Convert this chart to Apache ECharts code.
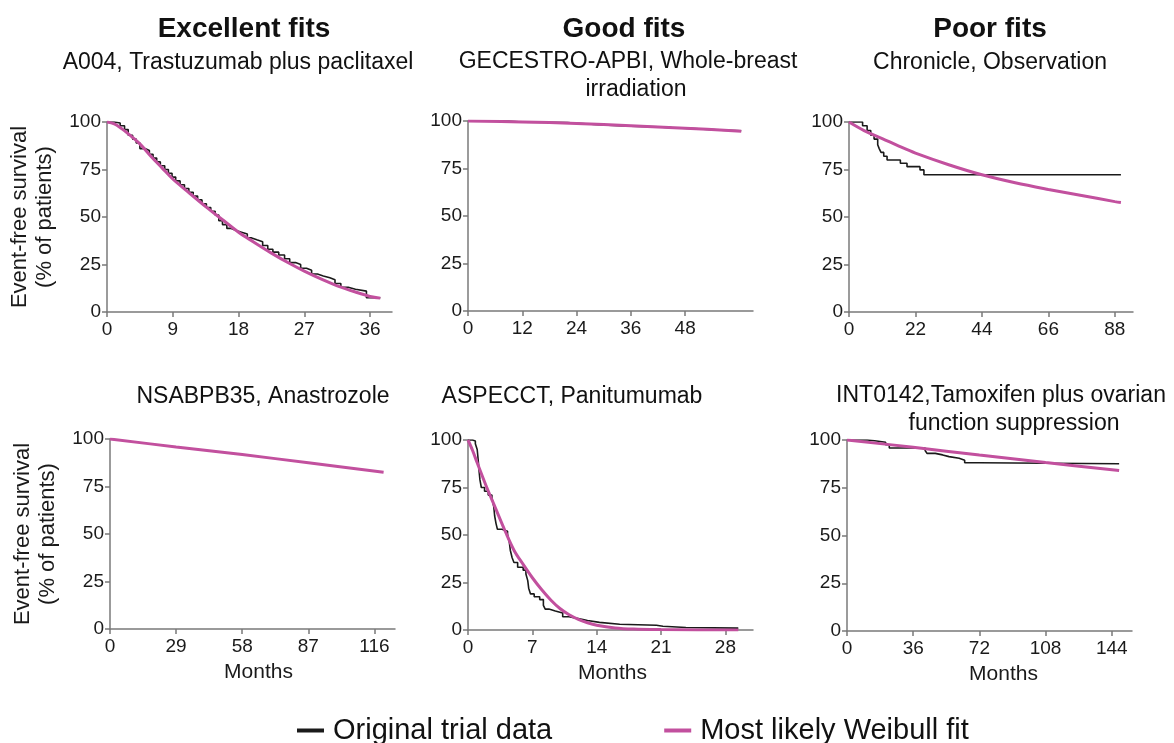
<!DOCTYPE html>
<html>
<head>
<meta charset="utf-8">
<script src="https://cdn.jsdelivr.net/npm/echarts@6/dist/echarts.min.js"></script>
<style>
html,body{margin:0;padding:0;background:#fff;}
#chart{width:1174px;height:743px;}
</style>
</head>
<body>
<div id="chart"></div>
<script>
// ---------- data (months, % event-free survival) ----------
const kmA004 = [[0,100],[1,99.5],[1.8,98],[2.4,96],[2.9,93],[3.5,91],[4,89],[4.5,86],[5.2,85],[5.8,83],[6.3,81],[6.8,79],[7.3,77],[7.9,75],[8.4,73],[8.9,71],[9.4,69],[10,67],[10.6,65],[11.2,63],[11.8,61],[12.4,59],[13,57],[13.6,55],[14.2,53],[14.8,51],[15.3,48],[15.8,46],[16.4,44],[17,43],[17.6,42],[18.4,41],[19.2,39],[19.8,38],[20.5,37],[21.3,35],[22,33],[22.7,31.5],[23.5,30],[24.3,28],[25,26],[25.8,25],[26.5,23],[27.3,22],[28,20],[28.8,19],[29.6,18],[30.5,17],[31.2,15],[32,13],[33,12],[34,11],[35.5,7.5],[37.4,7.5]];
const fitA004 = [[0,100],[1,99],[2,96.5],[3,93.5],[4.5,88.5],[6,82],[7.5,76],[9,70],[11,63.5],[13.5,55.5],[16,48],[18,42],[20,37],[22.5,31],[25,25.5],[27,21.5],[29.5,17],[31.5,13.8],[34,10.5],[36,8.2],[37.4,7.3]];

const kmGEC = [[0,100],[9,99.4],[12,99.2],[22,98.7],[25,98.2],[28,97.8],[31,97.2],[36,96.9],[42,96.5],[45,96],[50,95.6],[53,95.2],[56,94.9],[60.4,94.7]];
const fitGEC = [[0,100],[12,99.5],[24,98.7],[36,97.5],[48,96.2],[60.4,94.6]];

const kmChron = [[0,100],[4.5,98],[6,95.5],[7.2,93],[8.3,91],[9.5,88],[10,86],[10.6,84],[11.5,82],[12.6,80],[17,78.3],[19.2,76.5],[23.5,74.8],[24.8,72.2],[90,72.2]];
const fitChron = [[0,100],[5,95.5],[11,91.3],[16.5,87.3],[22,83.6],[33,77.5],[44,72.2],[55,68],[66,64.5],[77,61.3],[88,58.1],[90,57.6]];

const fitNSA = [[0,100],[29,95.8],[58,91.8],[87,87.5],[120,82.5]];

const kmASP = [[0,100],[0.5,99.5],[0.8,98],[1.0,95],[1.1,90],[1.2,84],[1.3,79],[1.45,75],[1.8,73],[2.2,71],[2.6,69.5],[2.8,65],[2.9,60],[3.05,56],[3.2,53],[3.7,52],[4.3,50.5],[4.5,46],[4.6,42],[4.8,38],[5.0,35.5],[5.4,33],[6.0,31.5],[6.3,29.5],[6.5,26],[6.6,22],[6.8,19],[7.2,17.5],[7.8,16],[8.2,13],[8.4,11],[8.8,10],[9.5,9],[10.3,7],[11,6],[12,5],[13,4],[14.3,3],[16.5,2.5],[20.5,2],[21.2,1.3],[23.7,1],[29.4,1]];
const fitASP = [[0,100],[0.5,94.5],[1,88],[2,75.5],[3,64],[4,52.5],[5,42],[6,34.5],[7,27.5],[8,21.3],[9,15.8],[10,11.3],[11,8],[12,5.6],[13,3.8],[14,2.5],[16,1.1],[18,0.5],[21,0.2],[25,0.05],[29.4,0]];

const kmINT = [[0,100],[11,99.6],[15,98.8],[21,97.5],[23,95.8],[42.5,94.5],[43.5,93],[48,92.2],[52,91.3],[55.5,90.4],[61,89.4],[64,88.1],[72,87.6],[148,87.6]];
const fitINT = [[0,100],[36,96.2],[72,92.1],[108,88.2],[148,84]];

const xTicks = [[0,9,18,27,36],[0,12,24,36,48],[0,22,44,66,88],[0,29,58,87,116],[0,7,14,21,28],[0,36,72,108,144]];
const xMax = [39,63,94,125,31,155];
const yTicks = [0,25,50,75,100];

const columnTitles = ['Excellent fits','Good fits','Poor fits'];
const panelTitles = ['A004, Trastuzumab plus paclitaxel','GECESTRO-APBI, Whole-breast','irradiation','Chronicle, Observation','NSABPB35, Anastrozole','ASPECCT, Panitumumab','INT0142,Tamoxifen plus ovarian','function suppression'];
const yName = 'Event-free survival\n(% of patients)';
const xName = 'Months';
const legendNames = ['Original trial data','Most likely Weibull fit'];

const kmSets = [kmA004, kmGEC, kmChron, null, kmASP, kmINT];
const fitSets = [fitA004, fitGEC, fitChron, fitNSA, fitASP, fitINT];

// ---------- layout ----------
const FONT = '"Liberation Sans", Arial, sans-serif';
const BLACK = '#1a1a1a';
const MAGENTA = '#c2509e';
const AXIS = '#7a7a7a';
const grids = [
  {left:107, top:122, width:285, height:190},
  {left:468, top:121, width:285, height:190},
  {left:849, top:122, width:284, height:190},
  {left:110, top:439, width:285, height:190},
  {left:468, top:440, width:285, height:190},
  {left:847, top:440, width:285, height:191}
];
const titlePos = [[244,29],[624,29],[990,29]];
const subPos = [[238,63],[628,62],[636,90],[990,63],[263,397],[572,397],[1001,396],[1014,424]];

const xAxes = grids.map((g,i)=>({
  type:'value', gridIndex:i, min:0, max:xMax[i],
  axisLine:{show:true, onZero:false, lineStyle:{color:AXIS, width:1.5}},
  axisTick:{show:true, length:5, customValues:xTicks[i], lineStyle:{color:AXIS, width:1.5}},
  axisLabel:{customValues:xTicks[i], fontSize:19, color:BLACK, margin:8, fontFamily:FONT},
  splitLine:{show:false},
  name: i>=3 ? xName : '',
  nameLocation:'middle', nameGap:33,
  nameTextStyle:{fontSize:21, color:BLACK, fontFamily:FONT, padding: i===5 ? [0,0,0,28] : (i===4 ? [0,0,0,4]:[0,0,0,12])}
}));
const yAxes = grids.map((g,i)=>({
  type:'value', gridIndex:i, min:0, max:100, interval:25,
  axisLine:{show:true, onZero:false, lineStyle:{color:AXIS, width:1.5}},
  axisTick:{show:true, length:5, lineStyle:{color:AXIS, width:1.5}},
  axisLabel:{fontSize:19, color:BLACK, margin:6, fontFamily:FONT},
  splitLine:{show:false},
  name: (i===0||i===3) ? yName : '',
  nameLocation:'middle', nameRotate:90, nameGap:50,
  nameTextStyle:{fontSize:22, lineHeight:25, color:BLACK, fontFamily:FONT, align:'center'}
}));

const series = [];
grids.forEach((g,i)=>{
  if (kmSets[i]) {
    series.push({name:legendNames[0], type:'line', xAxisIndex:i, yAxisIndex:i, data:kmSets[i], step:'end',
      showSymbol:false, lineStyle:{color:BLACK, width:1.6}, itemStyle:{color:BLACK}, z:2});
  }
  series.push({name:legendNames[1], type:'line', xAxisIndex:i, yAxisIndex:i, data:fitSets[i], smooth:0.35,
    showSymbol:false, lineStyle:{color:MAGENTA, width:3}, itemStyle:{color:MAGENTA}, z:3});
});

const graphics = [];
columnTitles.forEach((t,i)=>graphics.push({type:'text', x:titlePos[i][0], y:titlePos[i][1],
  style:{text:t, align:'center', verticalAlign:'middle', fontSize:28, fontWeight:'bold', fontFamily:FONT, fill:'#111'}}));
panelTitles.forEach((t,i)=>graphics.push({type:'text', x:subPos[i][0], y:subPos[i][1],
  style:{text:t, align:'center', verticalAlign:'middle', fontSize:23, fontFamily:FONT, fill:'#111'}}));

const chart = echarts.init(document.getElementById('chart'), null, {renderer:'canvas'});
chart.setOption({
  animation:false,
  backgroundColor:'#ffffff',
  grid:grids,
  xAxis:xAxes,
  yAxis:yAxes,
  series:series,
  graphic:graphics,
  legend:{left:297, top:716, padding:0, icon:'rect', itemWidth:27, itemHeight:4, itemGap:112,
    data:legendNames,
    textStyle:{fontSize:29, color:'#111', fontFamily:FONT, padding:[0,0,0,4]}}
});
</script>
</body>
</html>
